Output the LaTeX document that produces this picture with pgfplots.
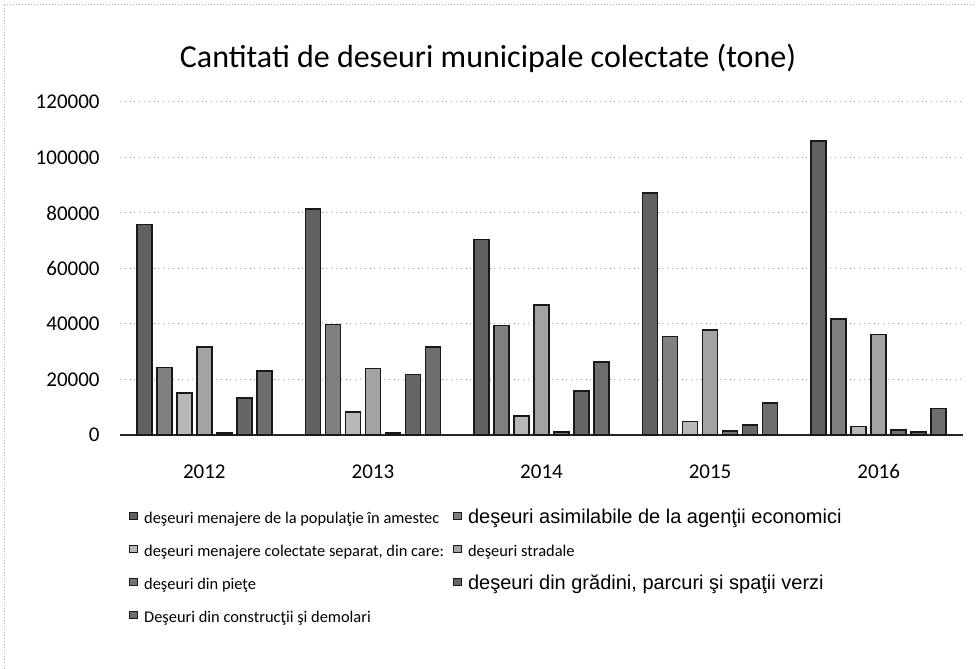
\documentclass[border=0pt]{standalone}
\usepackage{fontspec}
\setmainfont{Carlito}
\newfontfamily\arialfont{Liberation Sans}
\usepackage{pgfplots}
\pgfplotsset{compat=1.18}
\pgfplotsset{sq/.style={legend image code/.code={\draw[##1, line width=0.4pt] (0pt,-0.6pt) rectangle (3.8pt,3.2pt);}}}
\begin{document}
\begin{tikzpicture}
\useasboundingbox (-60pt,-117pt) rectangle (428pt,217.5pt);
\draw[gray!60, densely dotted, line width=0.5pt] (-57.5pt,-117pt) -- (-57.5pt,215pt) -- (428pt,215pt);
\begin{axis}[
 at={(0,0)}, anchor=south west,
 scale only axis, width=421.5pt, height=166.5pt,
 ymin=0, ymax=120000, xmin=-0.5, xmax=4.5,
 ytick={0,20000,...,120000},
 xtick={0,...,4}, xticklabels={2012,2013,2014,2015,2016},
 ymajorgrids, major grid style={gray!70, dotted, line width=0.5pt},
 axis x line*=bottom, axis y line*=left,
 x axis line style={black!85, line width=0.9pt, -},
 y axis line style={draw=none},
 tick style={draw=none},
 scaled y ticks=false,
 /pgf/number format/fixed,
 /pgf/number format/1000 sep={},
 /pgf/number format/assume math mode=true,
 ticklabel style={font=\fontsize{10.5}{12}\selectfont},
 yticklabel style={anchor=east, inner sep=0pt, xshift=-10pt},
 xticklabel style={anchor=base, inner sep=0pt, yshift=-17.5pt},
 ybar=2.5pt, bar width=7.5pt,
 title={Cantitati de deseuri municipale colectate (tone)},
 title style={font=\fontsize{16}{19}\selectfont, at={(axis description cs:0.5,1)}, anchor=center, yshift=16pt, xshift=-26.75pt},
 legend columns=2,
 legend style={draw=none, fill=none, inner sep=0pt, at={(axis description cs:0.0107,-0.2222)}, anchor=north west,
   font=\fontsize{8.2}{10}\selectfont, row sep=7.5pt,
   nodes={inner sep=0pt, text height=7pt, text depth=2pt},
   /tikz/every odd column/.append style={column sep=3.2pt}},
 legend cell align=left,
]
\addplot[draw=black!90, line width=0.8pt, fill=black!62, sq] coordinates {(0,75800) (1,81500) (2,70500) (3,87100) (4,105900)};
\addlegendentry{\makebox[154.5pt][l]{deşeuri menajere de la populaţie în amestec}}
\addplot[draw=black!90, line width=0.8pt, fill=black!50, sq] coordinates {(0,24300) (1,39800) (2,39400) (3,35500) (4,41900)};
\addlegendentry{{\arialfont\fontsize{10}{12}\selectfont deşeuri asimilabile de la agenţii economici}}
\addplot[draw=black!90, line width=0.8pt, fill=black!28, sq] coordinates {(0,15100) (1,8200) (2,6900) (3,4900) (4,3000)};
\addlegendentry{\makebox[154.5pt][l]{deşeuri menajere colectate separat, din care:}}
\addplot[draw=black!90, line width=0.8pt, fill=black!36, sq] coordinates {(0,31800) (1,23900) (2,46800) (3,37800) (4,36200)};
\addlegendentry{deşeuri stradale}
\addplot[draw=black!90, line width=0.8pt, fill=black!55, sq] coordinates {(0,800) (1,800) (2,1000) (3,1500) (4,1800)};
\addlegendentry{\makebox[154.5pt][l]{deşeuri din pieţe}}
\addplot[draw=black!90, line width=0.8pt, fill=black!60, sq] coordinates {(0,13300) (1,21800) (2,15900) (3,3700) (4,1100)};
\addlegendentry{{\arialfont\fontsize{10}{12}\selectfont deşeuri din grădini, parcuri şi spaţii verzi}}
\addplot[draw=black!90, line width=0.8pt, fill=black!57, sq] coordinates {(0,23100) (1,31800) (2,26300) (3,11500) (4,9600)};
\addlegendentry{Deşeuri din construcţii şi demolari}
\end{axis}
\end{tikzpicture}
\end{document}
